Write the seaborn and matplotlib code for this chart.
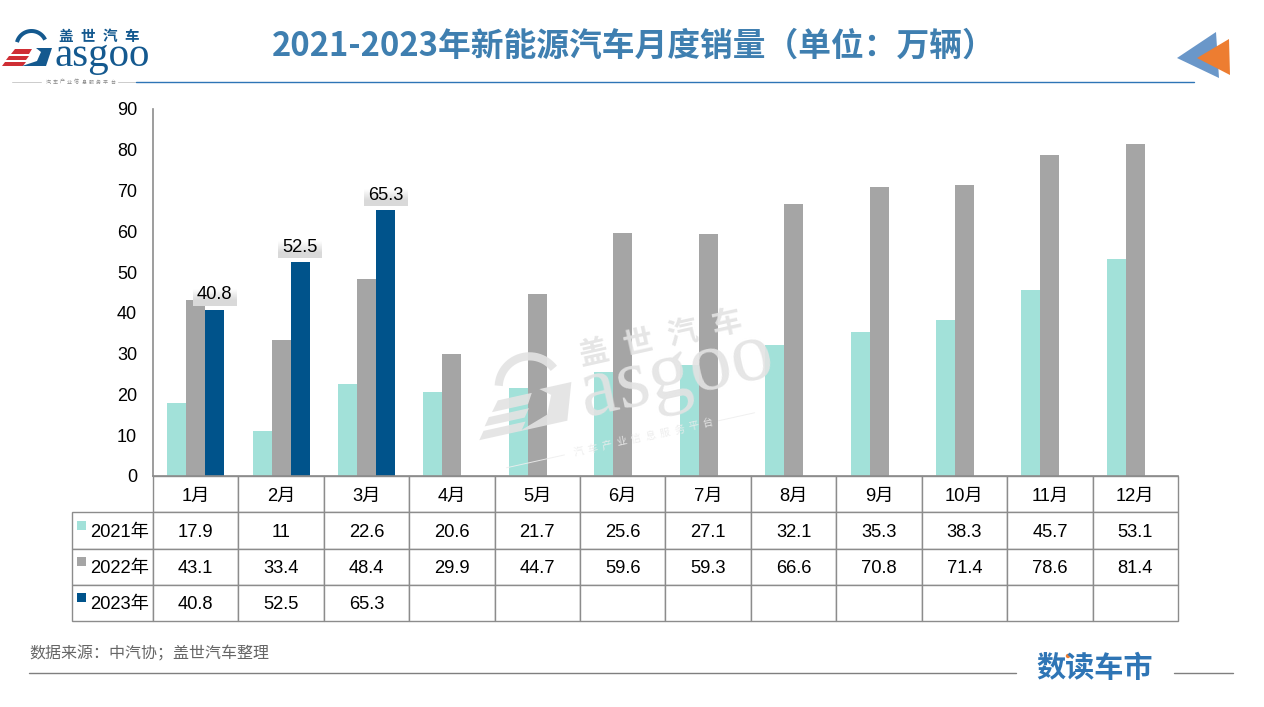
import numpy as np
import pandas as pd
import matplotlib.pyplot as plt
import seaborn as sns
from matplotlib.patches import Polygon, Circle

months = ["1月", "2月", "3月", "4月", "5月", "6月", "7月", "8月", "9月", "10月", "11月", "12月"]
years = ["2021年", "2022年", "2023年"]
sales_2021 = [17.9, 11, 22.6, 20.6, 21.7, 25.6, 27.1, 32.1, 35.3, 38.3, 45.7, 53.1]
sales_2022 = [43.1, 33.4, 48.4, 29.9, 44.7, 59.6, 59.3, 66.6, 70.8, 71.4, 78.6, 81.4]
sales_2023 = [40.8, 52.5, 65.3, None, None, None, None, None, None, None, None, None]
colors = ["#a2e1d9", "#a5a5a5", "#00538b"]

W, H = 1264, 707
CJK = ["Noto Sans CJK SC", "DejaVu Sans"]

sns.set_theme(style="white")
plt.rcParams["font.family"] = ["Liberation Sans", "Noto Sans CJK SC", "DejaVu Sans"]

df = pd.DataFrame({
    "month": months * 3,
    "year": np.repeat(years, 12),
    "sales": sales_2021 + sales_2022 + sales_2023,
})
df["sales"] = df["sales"].astype(float)

fig = plt.figure(figsize=(W / 100, H / 100), dpi=100, facecolor="white")
ax = fig.add_axes([153 / W, (H - 476) / H, 1025 / W, 367 / H])

sns.barplot(data=df, x="month", y="sales", hue="year", palette=colors, width=0.667, gap=0,
            saturation=1, legend=False, linewidth=0, ax=ax)
ax.set_ylim(0, 90)
ax.set_yticks(range(0, 91, 10))
ax.set_xlabel("")
ax.set_ylabel("")
ax.tick_params(axis="y", left=False, length=0, pad=11.5, labelsize=13, labelcolor="black")
ax.tick_params(axis="x", bottom=False, labelbottom=False)
sns.despine(ax=ax, top=True, right=True)
for side in ["left", "bottom"]:
    ax.spines[side].set_color("#8c8c8c")
    ax.spines[side].set_linewidth(1.2)

# labels on the 2023 bars, grey gradient box like the ppt
xlim = ax.get_xlim()
for bar, val in zip(ax.containers[2], sales_2023):
    if val is None:
        continue
    xc = bar.get_x() + bar.get_width() / 2
    ax.imshow([[0.85], [1.0]], cmap="gray", vmin=0, vmax=1, origin="lower", aspect="auto",
              interpolation="bilinear", extent=(xc - 0.257, xc + 0.257, val + 1, val + 6.4), zorder=4)
    ax.text(xc, val + 3.6, f"{val}", ha="center", va="center", fontsize=13.2, color="black", zorder=5)
ax.set_xlim(xlim)
ax.set_ylim(0, 90)

# data table below the axis
rows = [[""] + months]
for name, vals in zip(years, [sales_2021, sales_2022, sales_2023]):
    rows.append([name] + ["" if v is None else f"{v}" for v in vals])
table = ax.table(cellText=rows, cellLoc="center", colWidths=[81 / 1106] + [1025 / 12 / 1106] * 12,
                 bbox=[-81 / 1025, -145 / 367, 1106 / 1025, 145 / 367])
table.auto_set_font_size(False)
table.set_fontsize(13.2)
for (r, c), cell in table.get_celld().items():
    cell.set_edgecolor("#8c8c8c")
    cell.set_linewidth(1.0)
    cell.get_text().set_va("center_baseline")
    cell.get_text().set_color("black")
    if r == 0 and c == 0:
        cell.set_visible(False)
    if r > 0 and c == 0:
        cell._loc = "right"
        cell.PAD = 0.05
        cell.get_text().set_ha("right")

# page furniture in pixel coordinates
over = fig.add_axes([0, 0, 1, 1], zorder=10)
over.set_xlim(0, W)
over.set_ylim(H, 0)
over.axis("off")
over.patch.set_alpha(0)


def draw_logo(tx, ty, s, deg, blue, red, tag_color, line_color, alpha=1.0):
    th = np.radians(deg)

    def pt(x, y):
        return (tx + s * (x * np.cos(th) + y * np.sin(th)), ty + s * (-x * np.sin(th) + y * np.cos(th)))

    for quad in [[(15, 49), (32, 49), (29, 54), (11, 54)],
                 [(9, 56), (29, 56), (26, 60), (6, 60)],
                 [(5, 62), (26, 62), (23, 66), (2, 66)]]:
        over.add_patch(Polygon([pt(*p) for p in quad], color=red, lw=0, alpha=alpha))
    over.add_patch(Polygon([pt(*p) for p in [(36, 48), (52, 48), (46, 66), (22, 66), (37, 61), (41, 52)]],
                           color=blue, lw=0, alpha=alpha))
    # dome of the G, built up from short strokes so it can rotate
    ang = np.radians(np.linspace(195, 335, 30))
    dome = [pt(31.5 + 15 * np.cos(a), 46 + 15 * np.sin(a)) for a in ang]
    over.plot(*zip(*dome), color=blue, lw=4 * s * 0.72, alpha=alpha, solid_capstyle="butt")
    x, y = pt(55, 66)
    over.text(x, y, "asgoo", family="Liberation Serif", fontsize=29.5 * s, color=blue, rotation=deg,
              rotation_mode="anchor", ha="left", va="baseline", alpha=alpha)
    for i, ch in enumerate("盖世汽车"):
        x, y = pt(66 + i * 22, 36.5)
        over.text(x, y, ch, family=CJK, fontweight="bold", fontsize=10.5 * s, color=blue, rotation=deg,
                  rotation_mode="anchor", ha="center", va="center", alpha=alpha)
    for i, ch in enumerate("汽车产业信息服务平台"):
        x, y = pt(48 + i * 7.2, 82)
        over.text(x, y, ch, family=CJK, fontsize=3.6 * s, color=tag_color, rotation=deg,
                  rotation_mode="anchor", ha="center", va="center", alpha=alpha)
    over.plot(*zip(pt(12, 82), pt(41, 82)), color=line_color, lw=0.7, alpha=alpha)
    over.plot(*zip(pt(118, 82), pt(136, 82)), color=line_color, lw=0.7, alpha=alpha)


draw_logo(0, 0, 1, 0, "#14598f", "#cf2e35", "#888888", "#cccccc")
draw_logo(446, 309, 2.05, 12.5, "#e3e3e3", "#e3e3e3", "#ececec", "#eeeeee", alpha=0.9)

over.text(633.5, 46, "2021-2023年新能源汽车月度销量（单位：万辆）", family=CJK, fontweight="bold",
          fontsize=23.6, color="#3f7fb0", ha="center", va="center")
over.plot([136, 1194], [82, 82], color="#2e75b6", lw=1)
over.add_patch(Polygon([(1177, 58), (1216, 32), (1219, 78)], color="#6a97c9", lw=0))
over.add_patch(Polygon([(1197, 58), (1229, 39), (1230, 75)], color="#ed7d31", lw=0))

# legend keys inside the table
for i, c in enumerate(colors):
    over.add_patch(Polygon([(77, 521 + i * 36), (86, 521 + i * 36), (86, 530 + i * 36), (77, 530 + i * 36)],
                           color=c, lw=0))

over.text(29, 654, "数据来源：中汽协；盖世汽车整理", family=CJK, fontsize=11.5, color="#666666",
          ha="left", va="center")
over.plot([29, 1016], [673, 673], color="#7f7f7f", lw=1)
over.plot([1174, 1233], [673, 673], color="#7f7f7f", lw=1)
over.text(1095, 668, "数读车市", family=CJK, fontweight="bold", fontsize=21, color="#2f75b5",
          ha="center", va="center")
over.add_patch(Circle((1068, 656), 2.2, color="#ed7d31", lw=0))

fig.savefig("out.png", dpi=100)
